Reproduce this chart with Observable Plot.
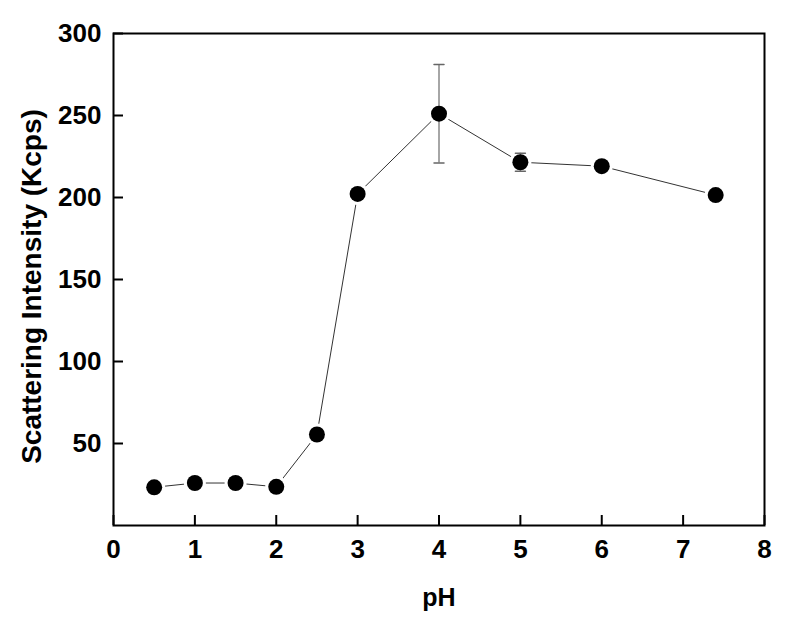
<!DOCTYPE html>
<html>
<head>
<meta charset="utf-8">
<script src="https://cdn.jsdelivr.net/npm/d3@7"></script>
<script src="https://cdn.jsdelivr.net/npm/@observablehq/plot@0.6"></script>
<style>
  html, body { margin: 0; padding: 0; background: #fff; }
</style>
</head>
<body>
<div id="chart"></div>
<script>
const pH = [0.5, 1, 1.5, 2, 2.5, 3, 4, 5, 6, 7.4];
const intensity = [23.3, 25.9, 25.9, 23.6, 55.5, 202.2, 251.1, 221.5, 219.1, 201.5];
const errors = [0, 0, 0, 0, 0, 0, 30, 5.5, 0, 0];
const xTicks = [0, 1, 2, 3, 4, 5, 6, 7, 8];
const yTicks = [50, 100, 150, 200, 250, 300];
const xLabel = "pH";
const yLabel = "Scattering Intensity (Kcps)";

const data = pH.map((p, i) => ({pH: p, v: intensity[i], e: errors[i]}));
const errData = data.filter(d => d.e > 0);

const family = "'Liberation Sans', Arial, Helvetica, sans-serif";
const tickFont = {fontFamily: family, fontSize: 26, fontWeight: "bold"};
const capShape = {draw(ctx, l) { ctx.moveTo(0, 0); ctx.lineTo(0, -l); }};

const chart = Plot.plot({
  width: 787,
  height: 623,
  marginLeft: 113,
  marginRight: 23,
  marginTop: 33,
  marginBottom: 98,
  style: {fontFamily: family, fontWeight: "bold", background: "#fff"},
  x: {domain: [0, 8]},
  y: {domain: [0, 300]},
  marks: [
    Plot.axisX(xTicks, {tickSize: -10, strokeWidth: 2, tickFormat: () => "", label: null}),
    Plot.axisX(xTicks, {tickSize: 0, tickPadding: 14, tickFormat: d => String(d), label: null, ...tickFont, fill: "#000"}),
    Plot.axisY(yTicks, {tickSize: -10, strokeWidth: 2, tickFormat: () => "", label: null}),
    Plot.axisY(yTicks, {tickSize: 0, tickPadding: 12, tickFormat: d => String(d), label: null, ...tickFont, fill: "#000"}),
    Plot.line(data, {x: "pH", y: "v", stroke: "#333", strokeWidth: 1}),
    Plot.dot(data, {x: "pH", y: "v", r: 11, fill: "#fff", stroke: "none"}),
    Plot.ruleX(errData, {x: "pH", y1: d => d.v - d.e, y2: d => d.v + d.e, stroke: "#888", strokeWidth: 1.5}),
    Plot.vector(errData, {x: "pH", y: d => d.v + d.e, length: 10, rotate: 90, anchor: "middle", shape: capShape, stroke: "#666", strokeWidth: 1.5}),
    Plot.vector(errData, {x: "pH", y: d => d.v - d.e, length: 10, rotate: 90, anchor: "middle", shape: capShape, stroke: "#666", strokeWidth: 1.5}),
    Plot.dot(data, {x: "pH", y: "v", r: 8, fill: "#000", stroke: "none"}),
    Plot.frame({stroke: "#000", strokeWidth: 2}),
    Plot.text([xLabel], {frameAnchor: "bottom", dy: 72, text: d => d, textAnchor: "middle", lineAnchor: "middle", fontFamily: family, fontSize: 25, fontWeight: "bold", fill: "#000"}),
    Plot.text([yLabel], {frameAnchor: "left", dx: -81, dy: 7, rotate: -90, text: d => d, textAnchor: "middle", lineAnchor: "middle", fontFamily: family, fontSize: 28, fontWeight: "bold", fill: "#000"})
  ]
});
document.getElementById("chart").appendChild(chart);
</script>
</body>
</html>
